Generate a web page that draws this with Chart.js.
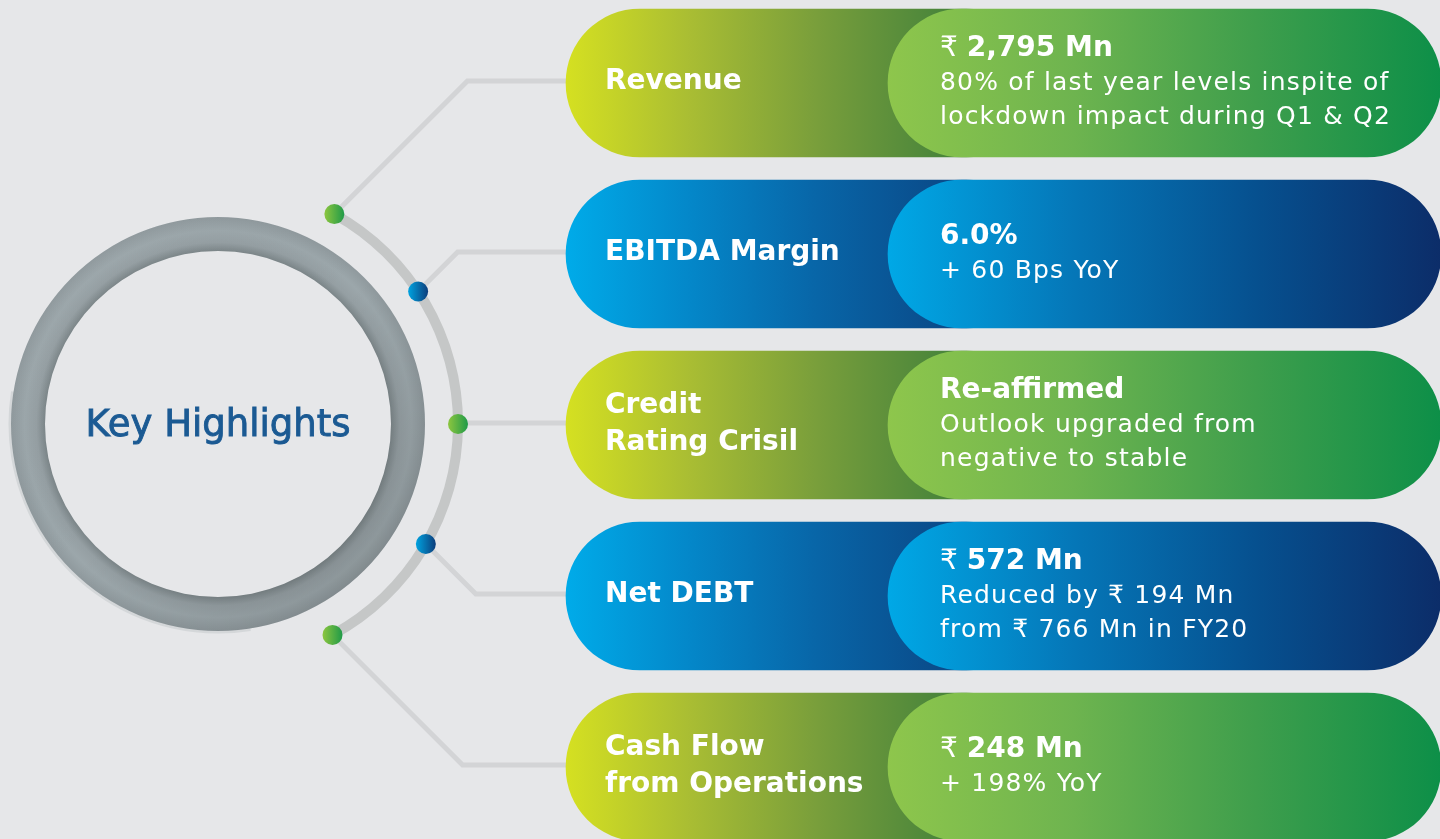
<!DOCTYPE html>
<html>
<head>
<meta charset="utf-8">
<script src="https://cdn.jsdelivr.net/npm/chart.js@4.4.0/dist/chart.umd.min.js"></script>
<style>
  html, body { margin: 0; padding: 0; width: 1440px; height: 839px; overflow: hidden; background: #e6e7e9; }
  #ringBox { position: absolute; left: -27px; top: 179px; width: 490px; height: 490px; }
  #mainBox { position: absolute; left: 0; top: 0; width: 1440px; height: 839px; }
</style>
</head>
<body>
<div id="ringBox"><canvas id="ringChart"></canvas></div>
<div id="mainBox"><canvas id="myChart"></canvas></div>
<script>
// content
const centerTitle = "Key Highlights";
const categories = [["Revenue"], ["EBITDA Margin"], ["Credit", "Rating Crisil"], ["Net DEBT"], ["Cash Flow", "from Operations"]];
const headlines = ["₹ 2,795 Mn", "6.0%", "Re-affirmed", "₹ 572 Mn", "₹ 248 Mn"];
const details = [
    ["80% of last year levels inspite of", "lockdown impact during Q1 & Q2"],
    ["+ 60 Bps YoY"],
    ["Outlook upgraded from", "negative to stable"],
    ["Reduced by ₹ 194 Mn", "from ₹ 766 Mn in FY20"],
    ["+ 198% YoY"],
];
const themes = ["green", "blue", "green", "blue", "green"];

// layout
const PILL_START = 566, PILL_SPLIT = 888, PILL_END = 1441, PILL_HEIGHT = 148;
const FIRST_ROW = 83, ROW_GAP = 171;
const RING = { cx: 218, cy: 424, arcR: 240, inner: 173, outer: 207 };
const dotAngles = [29, 56.5, 90, 120, 151.5];

const BOLD = 'bold 28px "DejaVu Sans"';
const REGULAR = '25px "DejaVu Sans"';

const palette = {
    green: {
        label: ["#d5e021", "#a9bd33", "#7a9f3b", "#4b863b"],
        value: ["#8ec64c", "#6eb44f", "#3e9e4c", "#0d8f48"],
        dot: ["#8dc63f", "#1f9a48"],
    },
    blue: {
        label: ["#00abe9", "#0487c9", "#0866a8", "#0a4c8b"],
        value: ["#00a8e6", "#0577b8", "#06508f", "#0c2d69"],
        dot: ["#00a3e0", "#0c3d7b"],
    },
};

function pillGradient(kind) {
    return function (context) {
        const chart = context.chart;
        if (!chart.chartArea || !context.raw) return "#888";
        const xs = chart.scales.x;
        const [a, b] = context.raw.x;
        const end = kind === "label" ? PILL_SPLIT + 50 : b;
        const g = chart.ctx.createLinearGradient(xs.getPixelForValue(a), 0, xs.getPixelForValue(end), 0);
        const stops = palette[themes[context.dataIndex]][kind];
        stops.forEach((c, k) => g.addColorStop(k / (stops.length - 1), c));
        return g;
    };
}

function dotPos(angle) {
    const rad = angle * Math.PI / 180;
    return { x: RING.cx + RING.arcR * Math.sin(rad), y: RING.cy - RING.arcR * Math.cos(rad) };
}

const connectorPlugin = {
    id: "connectors",
    beforeDatasetsDraw(chart) {
        const { ctx, scales: { x, y } } = chart;
        ctx.save();
        ctx.strokeStyle = "#d3d4d6";
        ctx.lineWidth = 5;
        dotAngles.forEach((a, i) => {
            const p = dotPos(a);
            const ry = y.getPixelForValue(i) - 2;
            ctx.beginPath();
            ctx.moveTo(p.x, p.y);
            ctx.lineTo(p.x + Math.abs(ry - p.y), ry);
            ctx.lineTo(x.getPixelForValue(PILL_START) + 30, ry);
            ctx.stroke();
        });
        dotAngles.forEach((a, i) => {
            const p = dotPos(a);
            const c = palette[themes[i]].dot;
            const g = ctx.createLinearGradient(p.x - 10, 0, p.x + 10, 0);
            g.addColorStop(0, c[0]);
            g.addColorStop(1, c[1]);
            ctx.beginPath();
            ctx.arc(p.x, p.y, 10, 0, Math.PI * 2);
            ctx.fillStyle = g;
            ctx.fill();
        });
        ctx.restore();
    },
};

function drawHeadline(ctx, text, x, y) {
    if (text.startsWith("₹ ")) {
        ctx.font = REGULAR.replace("25px", "28px");
        ctx.fillText("₹", x, y);
        const w = ctx.measureText("₹ ").width;
        ctx.font = BOLD;
        ctx.fillText(text.slice(2), x + w, y);
    } else {
        ctx.font = BOLD;
        ctx.fillText(text, x, y);
    }
}

const textPlugin = {
    id: "pillText",
    afterDatasetsDraw(chart) {
        const { ctx, scales: { x, y } } = chart;
        ctx.save();
        ctx.fillStyle = "#ffffff";
        ctx.textBaseline = "middle";
        categories.forEach((lines, i) => {
            const cy = y.getPixelForValue(i);
            ctx.font = BOLD;
            ctx.letterSpacing = "0px";
            lines.forEach((t, k) => {
                ctx.fillText(t, x.getPixelForValue(PILL_START) + 39, cy - 1 + (k - (lines.length - 1) / 2) * 37);
            });
            const right = [headlines[i], ...details[i]];
            const lx = x.getPixelForValue(PILL_SPLIT) + 52;
            right.forEach((t, k) => {
                const ty = cy + (k - (right.length - 1) / 2) * 34.5;
                if (k === 0) {
                    ctx.letterSpacing = "0px";
                    drawHeadline(ctx, t, lx, ty);
                } else {
                    ctx.font = REGULAR;
                    ctx.letterSpacing = "1.2px";
                    ctx.fillText(t, lx, ty);
                }
            });
        });
        ctx.restore();
    },
};

const chart = new Chart(document.getElementById("myChart"), {
    type: "bar",
    data: {
        datasets: [
            {
                label: "Highlight",
                data: categories.map((c, i) => ({ x: [PILL_START, PILL_SPLIT + 152], y: i })),
                backgroundColor: pillGradient("label"),
                order: 2,
            },
            {
                label: "Value",
                data: categories.map((c, i) => ({ x: [PILL_SPLIT, PILL_END], y: i })),
                backgroundColor: pillGradient("value"),
                order: 1,
            },
        ],
    },
    options: {
        indexAxis: "y",
        responsive: true,
        maintainAspectRatio: false,
        animation: false,
        events: [],
        layout: { padding: 0 },
        datasets: {
            bar: { barThickness: PILL_HEIGHT, borderRadius: 100, borderSkipped: false, grouped: false, borderWidth: 0 },
        },
        scales: {
            x: { type: "linear", display: false, min: 0, max: 1440 },
            y: {
                type: "linear", display: false, reverse: true, offset: false,
                min: -FIRST_ROW / ROW_GAP, max: (839 - FIRST_ROW) / ROW_GAP,
            },
        },
        plugins: { legend: { display: false }, tooltip: { enabled: false } },
    },
    plugins: [connectorPlugin, textPlugin],
});

// ring + arc
function ringGradient(context) {
    const chart = context.chart;
    const area = chart.chartArea;
    if (!area) return "#9aa5a8";
    const cx = (area.left + area.right) / 2, cy = (area.top + area.bottom) / 2;
    const g = chart.ctx.createRadialGradient(cx, cy, RING.inner, cx, cy, RING.outer);
    g.addColorStop(0, "#7c8689");
    g.addColorStop(0.25, "#959fa3");
    g.addColorStop(0.6, "#9ca7ab");
    g.addColorStop(1, "#8f999d");
    return g;
}

const ringPlugin = {
    id: "ringDecor",
    beforeDatasetsDraw(chart) {
        // faint light halo outside the ring, lower left
        const arc = chart.getDatasetMeta(2).data[0];
        if (!arc) return;
        const { x, y, outerRadius } = arc.getProps(["x", "y", "outerRadius"], true);
        const ctx = chart.ctx;
        ctx.save();
        ctx.strokeStyle = "rgba(210,213,215,0.9)";
        ctx.lineWidth = 3;
        ctx.beginPath();
        ctx.arc(x, y, outerRadius + 1, Math.PI * 0.45, Math.PI * 1.05);
        ctx.stroke();
        ctx.restore();
    },
    afterDatasetsDraw(chart) {
        const arc = chart.getDatasetMeta(2).data[0];
        if (!arc) return;
        const { x, y, innerRadius, outerRadius } = arc.getProps(["x", "y", "innerRadius", "outerRadius"], true);
        const ctx = chart.ctx;
        ctx.save();
        const g = ctx.createLinearGradient(x - outerRadius, y - outerRadius, x + outerRadius, y + outerRadius);
        g.addColorStop(0, "rgba(255,255,255,0.05)");
        g.addColorStop(0.5, "rgba(0,0,0,0)");
        g.addColorStop(1, "rgba(0,0,0,0.14)");
        ctx.beginPath();
        ctx.arc(x, y, outerRadius, 0, Math.PI * 2);
        ctx.arc(x, y, innerRadius, 0, Math.PI * 2, true);
        ctx.fillStyle = g;
        ctx.fill();
        ctx.fillStyle = "#1b5a93";
        ctx.strokeStyle = "#1b5a93";
        ctx.lineWidth = 0.9;
        ctx.font = '37px "DejaVu Sans"';
        ctx.textAlign = "center";
        ctx.textBaseline = "alphabetic";
        ctx.fillText(centerTitle, x, y + 12);
        ctx.strokeText(centerTitle, x, y + 12);
        ctx.restore();
    },
};

const ringChart = new Chart(document.getElementById("ringChart"), {
    type: "doughnut",
    data: {
        datasets: [
            { data: [1], backgroundColor: "#c5c7c7", rotation: 29, circumference: 122.5, weight: 10 },
            { data: [1], backgroundColor: "rgba(0,0,0,0)", weight: 28 },
            { data: [1], backgroundColor: ringGradient, weight: 34 },
        ],
    },
    options: {
        responsive: true,
        maintainAspectRatio: false,
        animation: false,
        events: [],
        cutout: RING.inner,
        layout: { padding: 0 },
        elements: { arc: { borderWidth: 0 } },
        plugins: { legend: { display: false }, tooltip: { enabled: false } },
    },
    plugins: [ringPlugin],
});
</script>
</body>
</html>
